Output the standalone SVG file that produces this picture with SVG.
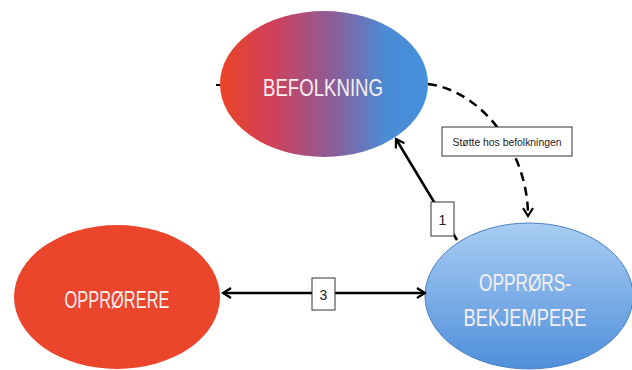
<svg xmlns="http://www.w3.org/2000/svg" width="632" height="370" viewBox="0 0 632 370">
<defs>
<linearGradient id="gBef" x1="0" y1="0" x2="1" y2="0">
<stop offset="0" stop-color="#ec4326"/>
<stop offset="0.25" stop-color="#d0405a"/>
<stop offset="0.55" stop-color="#8a5e9a"/>
<stop offset="0.8" stop-color="#4a8cd6"/>
<stop offset="1" stop-color="#4690dc"/>
</linearGradient>
<linearGradient id="gBlue" x1="0" y1="0" x2="0" y2="1">
<stop offset="0" stop-color="#a9cdf3"/>
<stop offset="1" stop-color="#4f8fdb"/>
</linearGradient>
<marker id="arr" viewBox="0 0 12 12" refX="10" refY="6" markerWidth="12" markerHeight="12" markerUnits="userSpaceOnUse" orient="auto-start-reverse">
<path d="M2,1 L10,6 L2,11" fill="none" stroke="#000" stroke-width="2.2"/>
</marker>
<style>
.lbl{font-family:"Liberation Sans",Arial,sans-serif;fill:#f6f0f2;text-anchor:middle}
.box{fill:#fff;stroke:#333;stroke-width:1}
.btxt{font-family:"Liberation Sans",Arial,sans-serif;fill:#222;text-anchor:middle}
.con{fill:none;stroke:#000;stroke-width:2.5}
</style>
</defs>
<rect width="632" height="370" fill="#fff"/>
<g id="befolkning">
<ellipse cx="324" cy="84" rx="104" ry="73" fill="url(#gBef)"/>
<text class="lbl" x="323" y="96" font-size="24" textLength="120" lengthAdjust="spacingAndGlyphs">BEFOLKNING</text>
</g>
<g id="opprorere">
<ellipse cx="117" cy="297" rx="103" ry="72" fill="#eb452c"/>
<text class="lbl" x="117" y="308" font-size="24" textLength="105" lengthAdjust="spacingAndGlyphs">OPPRØRERE</text>
</g>
<g id="bekjempere">
<ellipse cx="529" cy="296" rx="104" ry="73" fill="url(#gBlue)" stroke="#4a80c4" stroke-width="1"/>
<text class="lbl" x="525" y="291" font-size="24" textLength="92" lengthAdjust="spacingAndGlyphs">OPPRØRS-</text>
<text class="lbl" x="525" y="326" font-size="24" textLength="123" lengthAdjust="spacingAndGlyphs">BEKJEMPERE</text>
</g>
<g id="connectors">
<line x1="216" y1="85" x2="220" y2="85" stroke="#000" stroke-width="2"/>
<line class="con" x1="223" y1="293" x2="425" y2="293" marker-start="url(#arr)" marker-end="url(#arr)"/>
<line class="con" x1="457" y1="240" x2="396" y2="139" marker-end="url(#arr)"/>
<path class="con" d="M428,84 C480,90 528,150 528,216" stroke-dasharray="9,6" marker-end="url(#arr)"/>
<g id="label3">
<rect class="box" x="312" y="278" width="23" height="32"/>
<text class="btxt" x="323.5" y="300" font-size="14">3</text>
</g>
<g id="label1">
<rect class="box" x="431" y="202" width="23" height="34"/>
<text class="btxt" x="442.5" y="225" font-size="14">1</text>
</g>
<g id="labelStotte">
<rect class="box" x="442" y="127" width="130" height="29"/>
<text class="btxt" x="507" y="146" font-size="11" textLength="109" lengthAdjust="spacingAndGlyphs">Støtte hos befolkningen</text>
</g>
</g>
</svg>
